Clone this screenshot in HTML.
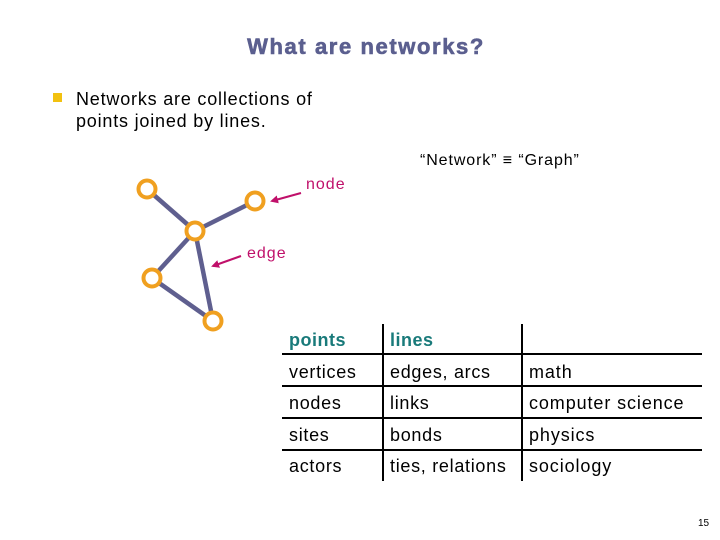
<!DOCTYPE html>
<html><head><meta charset="utf-8"><style>
body{margin:0;width:720px;height:540px;background:#fff;position:relative;font-family:"Liberation Sans",sans-serif;overflow:hidden}
.t{position:absolute;white-space:nowrap}
</style></head><body>
<div class="t" style="left:0;width:732px;text-align:center;top:34px;font-size:22px;font-weight:bold;color:#5b5f8f;letter-spacing:1.6px;-webkit-text-stroke:0.6px #5b5f8f">What are networks?</div>
<div style="position:absolute;left:53px;top:93px;width:9px;height:9px;background:#f2c110"></div>
<div class="t" style="left:76px;top:88px;font-size:18px;line-height:22px;color:#000;letter-spacing:0.8px">Networks are collections of<br>points joined by lines.</div>
<div class="t" style="left:420px;top:152px;font-size:16px;color:#000;letter-spacing:0.9px">“Network” ≡ “Graph”</div>
<div class="t" style="left:306px;top:176px;font-size:16px;color:#c0106a;letter-spacing:1px">node</div>
<div class="t" style="left:247px;top:245px;font-size:16px;color:#c0106a;letter-spacing:1px">edge</div>
<svg width="720" height="540" style="position:absolute;left:0;top:0">
<defs><marker id="a" markerWidth="8" markerHeight="8" refX="6" refY="4" orient="auto" markerUnits="userSpaceOnUse"><path d="M0,0 L8,4 L0,8 z" fill="#c0106a"/></marker></defs>
<g stroke="#5f5f8f" stroke-width="4.5">
<line x1="147" y1="189" x2="195" y2="231"/>
<line x1="255" y1="201" x2="195" y2="231"/>
<line x1="195" y1="231" x2="152" y2="278"/>
<line x1="195" y1="231" x2="213" y2="321"/>
<line x1="152" y1="278" x2="213" y2="321"/>
</g>
<g fill="#fff" stroke="#f0a020" stroke-width="4">
<circle cx="147" cy="189" r="8.5"/><circle cx="255" cy="201" r="8.5"/><circle cx="195" cy="231" r="8.5"/><circle cx="152" cy="278" r="8.5"/><circle cx="213" cy="321" r="8.5"/>
</g>
<g stroke="#c0106a" stroke-width="2">
<line x1="301" y1="193" x2="272" y2="201" marker-end="url(#a)"/>
<line x1="241" y1="256" x2="213" y2="266" marker-end="url(#a)"/>
</g>
<g stroke="#000" stroke-width="2">
<line x1="282" y1="354" x2="702" y2="354"/><line x1="282" y1="386" x2="702" y2="386"/>
<line x1="282" y1="418" x2="702" y2="418"/><line x1="282" y1="450" x2="702" y2="450"/>
<line x1="383" y1="324" x2="383" y2="481"/><line x1="522" y1="324" x2="522" y2="481"/>
</g>
</svg>
<div style="position:absolute;left:289px;top:325px;font-size:18px;line-height:31.5px;color:#000;letter-spacing:0.7px;white-space:nowrap">
<div style="color:#197a7a;font-weight:bold;letter-spacing:0.5px">points</div><div>vertices</div><div>nodes</div><div>sites</div><div>actors</div></div>
<div style="position:absolute;left:390px;top:325px;font-size:18px;line-height:31.5px;color:#000;letter-spacing:0.7px;white-space:nowrap">
<div style="color:#197a7a;font-weight:bold;letter-spacing:0.5px">lines</div><div>edges, arcs</div><div>links</div><div>bonds</div><div>ties, relations</div></div>
<div style="position:absolute;left:529px;top:325px;font-size:18px;line-height:31.5px;color:#000;letter-spacing:0.9px;white-space:nowrap">
<div>&nbsp;</div><div>math</div><div>computer science</div><div>physics</div><div>sociology</div></div>
<div class="t" style="left:698px;top:518px;font-size:10px;color:#000">15</div>
</body></html>
